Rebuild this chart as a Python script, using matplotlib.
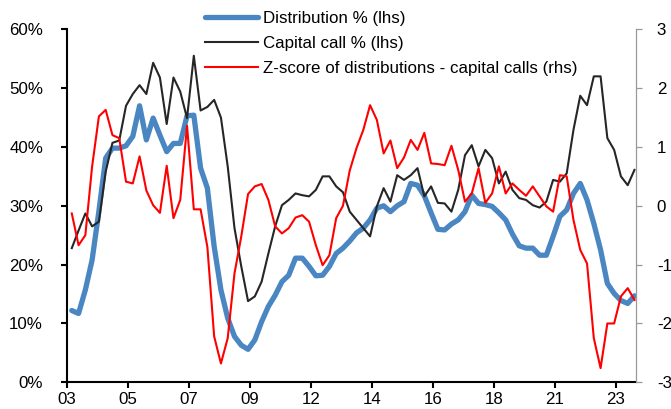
import numpy as np
import matplotlib
matplotlib.use("Agg")
import matplotlib.pyplot as plt
from matplotlib.lines import Line2D

plt.rcParams['font.family'] = ['Liberation Sans', 'DejaVu Sans']
plt.rcParams['axes.unicode_minus'] = False

# quarterly data, 2003Q1 .. 2023Q4
dist_pct = [12.2, 11.7, 15.7, 20.8, 29.1, 38.1, 39.8, 39.8, 40.2, 41.8,
            47.0, 41.2, 44.9, 42.0, 39.2, 40.6, 40.6, 45.3, 45.4, 36.4,
            33.0, 23.1, 15.7, 10.9, 7.8, 6.3, 5.6, 7.2, 10.3, 12.9,
            14.8, 17.1, 18.2, 21.1, 21.1, 19.7, 18.1, 18.2, 19.7, 21.9,
            22.8, 24.0, 25.4, 26.2, 27.6, 29.6, 30.0, 29.0, 30.0, 30.7,
            33.8, 33.5, 31.7, 28.8, 26.0, 25.9, 26.9, 27.6, 29.0, 31.8,
            30.4, 30.2, 29.9, 28.8, 27.6, 25.2, 23.2, 22.8, 22.8, 21.6,
            21.6, 24.8, 28.2, 29.3, 32.1, 33.8, 31.0, 27.0, 22.5, 16.8,
            15.1, 13.9, 13.4, 14.7]

call_pct = [22.8, 25.8, 28.7, 26.5, 27.3, 35.8, 40.7, 41.1, 47.0, 49.0,
            50.5, 49.0, 54.3, 51.8, 43.9, 51.8, 49.4, 44.9, 55.5, 46.2,
            46.8, 48.0, 45.0, 36.7, 26.2, 19.7, 13.8, 14.6, 17.1, 21.9,
            26.5, 30.1, 31.0, 32.1, 31.8, 31.6, 32.7, 35.0, 35.0, 33.3,
            32.3, 29.0, 27.6, 26.2, 24.8, 29.9, 33.0, 30.7, 35.2, 34.4,
            35.2, 36.4, 31.6, 33.3, 30.5, 30.4, 29.0, 32.7, 38.6, 40.3,
            36.7, 39.5, 38.1, 33.8, 35.8, 32.7, 31.3, 31.0, 30.1, 29.7,
            30.7, 34.4, 34.1, 35.5, 42.9, 48.7, 47.1, 52.0, 52.0, 41.5,
            39.5, 35.0, 33.5, 36.1]

zscore = [-0.13, -0.67, -0.50, 0.67, 1.52, 1.63, 1.20, 1.15, 0.41, 0.38,
          0.84, 0.26, 0.01, -0.12, 0.68, -0.21, 0.10, 1.36, -0.06, -0.06,
          -0.70, -2.22, -2.68, -2.25, -1.15, -0.52, 0.20, 0.33, 0.37, 0.10,
          -0.35, -0.47, -0.38, -0.20, -0.16, -0.27, -0.67, -1.01, -0.84, -0.21,
          0.00, 0.60, 0.98, 1.29, 1.71, 1.46, 0.89, 1.11, 0.64, 0.82,
          1.12, 0.95, 1.24, 0.72, 0.71, 0.69, 1.02, 0.61, 0.07, 0.21,
          0.64, 0.05, 0.21, 0.67, 0.21, 0.38, 0.27, 0.17, 0.33, 0.16,
          -0.01, -0.10, 0.52, 0.50, -0.24, -0.75, -0.98, -2.25, -2.76, -2.00,
          -2.00, -1.54, -1.40, -1.60]

year_labels = ['03', '05', '07', '09', '12', '14', '16', '18', '21', '23']

x = np.arange(len(dist_pct))
fs = 12.2

fig = plt.figure(figsize=(6.71, 4.09), dpi=100)
ax = fig.add_axes([0.0994, 0.0653, 0.8484, 0.8631])
ax2 = ax.twinx()

l1, = ax.plot(x, dist_pct, color='#4A86C2', lw=3.8, solid_capstyle='round', zorder=2)
l2, = ax.plot(x, call_pct, color='#262626', lw=1.5, zorder=3)
l3, = ax2.plot(x, zscore, color='#FF0000', lw=1.5, zorder=3)

ax.set_xlim(-0.75, 83.22)
ax.set_ylim(0, 60)
ax2.set_ylim(-3, 3)

ax.set_xticks([-0.75 + 9 * k for k in range(len(year_labels))])
ax.set_xticklabels(year_labels)
ax.set_yticks(range(0, 61, 10))
ax.set_yticklabels([f'{v}%' for v in range(0, 61, 10)])
ax2.set_yticks(range(-3, 4))
ax2.set_yticklabels([str(v) for v in range(-3, 4)])

for a in (ax, ax2):
    a.spines['top'].set_visible(False)
ax.spines['right'].set_visible(False)
ax2.spines['left'].set_visible(False)
ax2.spines['bottom'].set_visible(False)
ax.spines['left'].set_linewidth(1.5)
ax.spines['bottom'].set_linewidth(1.5)
ax2.spines['right'].set_color('#999999')
ax2.spines['right'].set_linewidth(0.9)

ax.tick_params(axis='y', direction='out', length=4, width=1.5, pad=13, labelsize=fs)
ax.tick_params(axis='x', direction='out', length=4, width=1.5, pad=3, labelsize=fs)
ax2.tick_params(axis='y', direction='out', length=4, width=0.9, color='#999999', pad=11, labelsize=fs)

ax.patch.set_visible(False)

handles = [Line2D([], [], color='#4A86C2', lw=3.8, solid_capstyle='round'),
           Line2D([], [], color='#262626', lw=1.5),
           Line2D([], [], color='#FF0000', lw=1.5)]
labels = ['Distribution % (lhs)', 'Capital call % (lhs)',
          'Z-score of distributions - capital calls (rhs)']
leg = ax2.legend(handles, labels, loc='upper left', frameon=False,
                 bbox_to_anchor=(205 / 671, (409 - 11) / 409),
                 bbox_transform=fig.transFigure, fontsize=fs,
                 borderpad=0, borderaxespad=0, handlelength=3.1,
                 handletextpad=0.3, labelspacing=0.6)

fig.savefig('out.png', dpi=100)
